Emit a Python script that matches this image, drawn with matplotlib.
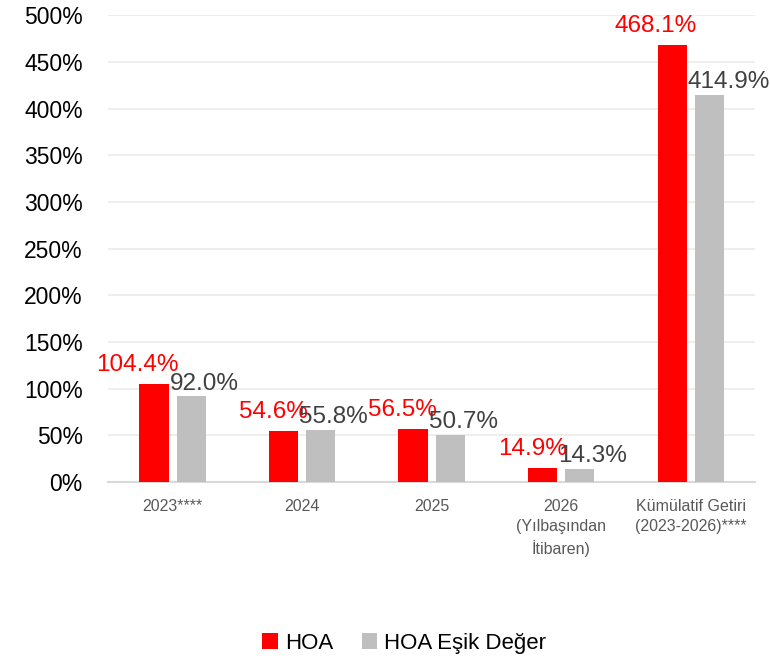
import matplotlib
matplotlib.use("Agg")
import matplotlib.pyplot as plt
import numpy as np

CATEGORIES = ["2023****", "2024", "2025", "2026\n(Yılbaşından\nİtibaren)",
              "Kümülatif Getiri\n(2023-2026)****"]
HOA = [104.4, 54.6, 56.5, 14.9, 468.1]
ESIK = [92.0, 55.8, 50.7, 14.3, 414.9]
SERIES = ["HOA", "HOA Eşik Değer"]
YTICKS = [0, 50, 100, 150, 200, 250, 300, 350, 400, 450, 500]

RED, GRAY = "#ff0000", "#bfbfbf"

plt.rcParams.update({"font.family": ["Liberation Sans", "DejaVu Sans"]})
fig = plt.figure(figsize=(7.7, 6.62), dpi=100)
ax = fig.add_axes([0.140, 0.272, 0.841, 0.705])

x = np.arange(len(CATEGORIES))
w = 0.225
off = 0.143
b1 = ax.bar(x - off, HOA, w, color=RED, label=SERIES[0], zorder=3)
b2 = ax.bar(x + off, ESIK, w, color=GRAY, label=SERIES[1], zorder=3)

for b, v in zip(b1, HOA):
    ax.annotate(f"{v:.1f}%", (b.get_x() + b.get_width(), v), xytext=(7, 6),
                textcoords="offset points", ha="right", va="bottom",
                color=RED, fontsize=17.5)
for b, v in zip(b2, ESIK):
    ax.annotate(f"{v:.1f}%", (b.get_x(), v), xytext=(-5, 1),
                textcoords="offset points", ha="left", va="bottom",
                color="#404040", fontsize=17.5)

ax.set_xlim(-0.5, len(CATEGORIES) - 0.5)
ax.set_ylim(0, 500)
ax.set_yticks(YTICKS)
ax.set_yticklabels([f"{t}%" for t in YTICKS], fontsize=16.5, color="#000000")
ax.set_xticks(x)
ax.set_xticklabels(CATEGORIES, fontsize=11.5, color="#595959",
                   linespacing=1.45)
ax.tick_params(axis="both", length=0)
ax.tick_params(axis="x", pad=12)
ax.tick_params(axis="y", pad=18)
ax.grid(axis="y", color="#ebebeb", linewidth=1.2, zorder=0)
for s in ["top", "right", "left"]:
    ax.spines[s].set_visible(False)
ax.spines["bottom"].set_color("#d9d9d9")
ax.spines["bottom"].set_linewidth(1.5)

fig.legend(handles=[b1, b2], labels=SERIES, loc="center",
           bbox_to_anchor=(0.525, 0.028), ncol=2, frameon=False, fontsize=16,
           handlelength=0.7, handleheight=0.7, handletextpad=0.3,
           columnspacing=1.3)

fig.savefig("out.png", dpi=100)
